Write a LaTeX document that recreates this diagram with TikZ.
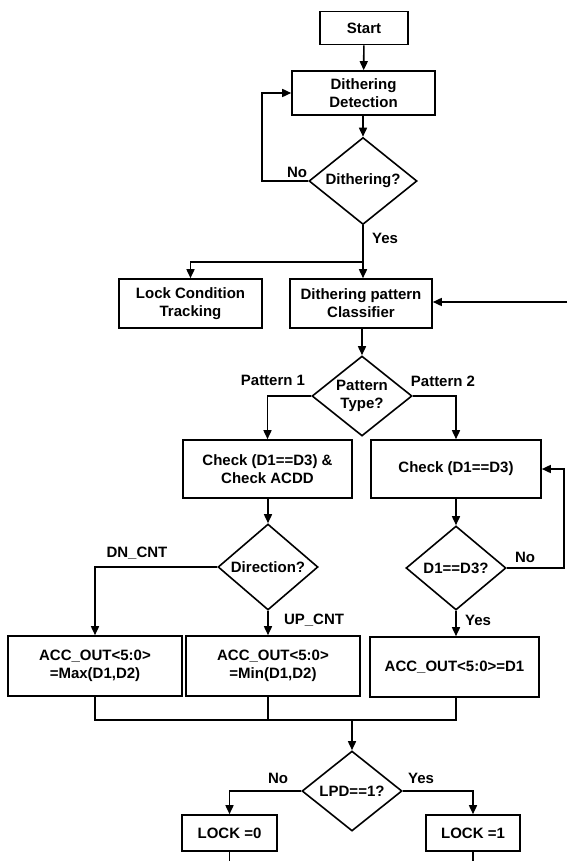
\documentclass[tikz,border=0pt]{standalone}
\usepackage{fontspec}
\setmainfont{Liberation Sans}
\usetikzlibrary{shapes.geometric,arrows.meta}
\begin{document}
\begin{tikzpicture}[x=1pt,y=-1pt,line width=1.6pt,
  font=\fontsize{15}{18}\selectfont\bfseries,
  >={Triangle[length=9pt,width=8pt]},
  box/.style={draw,rectangle,align=center,inner sep=2pt},
  cond/.style={draw,diamond,align=center,inner sep=0pt,shape aspect=1.25},
  lbl/.style={inner sep=0pt}]
\useasboundingbox (0,0) rectangle (567,861);
% blocks
\node[box,minimum width=88,minimum height=33] (start) at (364,28) {Start};
\node[box,minimum width=143,minimum height=44] (det) at (363.5,93) {Dithering\\Detection};
\node[cond,minimum width=108,minimum height=87] (dith) at (363,181) {Dithering?};
\node[box,minimum width=143,minimum height=49] (lock) at (190.5,303.5) {Lock Condition\\Tracking};
\node[box,minimum width=142,minimum height=49] (cls) at (361,303.5) {Dithering pattern\\Classifier};
\node[cond,minimum width=100,minimum height=80] (ptype) at (362,396) {Pattern\\Type?};
\node[box,minimum width=169,minimum height=58] (chk1) at (267.5,469) {Check (D1==D3) \&\\Check ACDD};
\node[box,minimum width=170,minimum height=58] (chk2) at (456,469) {Check (D1==D3)};
\node[cond,minimum width=100,minimum height=86] (dir) at (268,567) {Direction?};
\node[cond,minimum width=100,minimum height=84] (d13) at (456,568) {D1==D3?};
\node[box,minimum width=174,minimum height=60] (acc1) at (95,666) {ACC\_OUT<5:0>\\=Max(D1,D2)};
\node[box,minimum width=174,minimum height=60] (acc2) at (273,666) {ACC\_OUT<5:0>\\=Min(D1,D2)};
\node[box,minimum width=169,minimum height=60] (acc3) at (454.5,667) {ACC\_OUT<5:0>=D1};
\node[cond,minimum width=100,minimum height=80] (lpd) at (352,791) {LPD==1?};
\node[box,minimum width=95,minimum height=36] (lock0) at (229.5,833) {LOCK =0};
\node[box,minimum width=94,minimum height=36] (lock1) at (473,833) {LOCK =1};
% labels
\node[lbl] (no1) at (297,172) {No};
\node[lbl] (yes1) at (385,238) {Yes};
\node[lbl] (pat1) at (273,380) {Pattern 1};
\node[lbl] (pat2) at (443,381) {Pattern 2};
\node[lbl] (dn) at (137,553) {DN\_CNT};
\node[lbl] (up) at (314,620) {UP\_CNT};
\node[lbl] (no2) at (525,557) {No};
\node[lbl] (yes2) at (478,620) {Yes};
\node[lbl] (no3) at (278,778) {No};
\node[lbl] (yes3) at (421,778) {Yes};
% helper points
\coordinate (split) at (363,262);
\coordinate (fb) at (567,302);
\coordinate (join) at (352,720);
\coordinate (bot) at (0,861);
% connectors
\draw[->] (start) -- (det);
\draw[->] (det.south -| dith.north) -- (dith.north);
\draw[->] (dith.west) -- ++(-46,0) |- (det.west);
\draw (dith.south) -- (split);
\draw[->] (split) -| (lock.north);
\draw[->] (split) -- (split |- cls.north);
\draw[->] (fb) -- (fb -| cls.east);
\draw[->] (cls.south -| ptype.north) -- (ptype.north);
\draw[->] (ptype.west) -| (chk1.north);
\draw[->] (ptype.east) -| (chk2.north);
\draw[->] (chk1.south -| dir.north) -- (dir.north);
\draw[->] (chk2) -- (d13);
\draw[->] (d13.east) -- ++(57,0) |- (chk2.east);
\draw[->] (dir.west) -| (acc1.north);
\draw[->] (dir.south) -- (dir.south |- acc2.north);
\draw[->] (d13.south) -- (d13.south |- acc3.north);
\draw (acc1.south) |- (d13.south |- join) -- (d13.south |- acc3.south);
\draw (dir.south |- acc2.south) -- (dir.south |- join);
\draw[->] (join) -- (lpd.north);
\draw[->] (lpd.west) -| (lock0.north);
\draw[->] (lpd.east) -| (lock1.north);
\draw (lock0.south) -- (lock0.south |- bot);
\draw (lock1.south) -- (lock1.south |- bot);
\end{tikzpicture}
\end{document}
